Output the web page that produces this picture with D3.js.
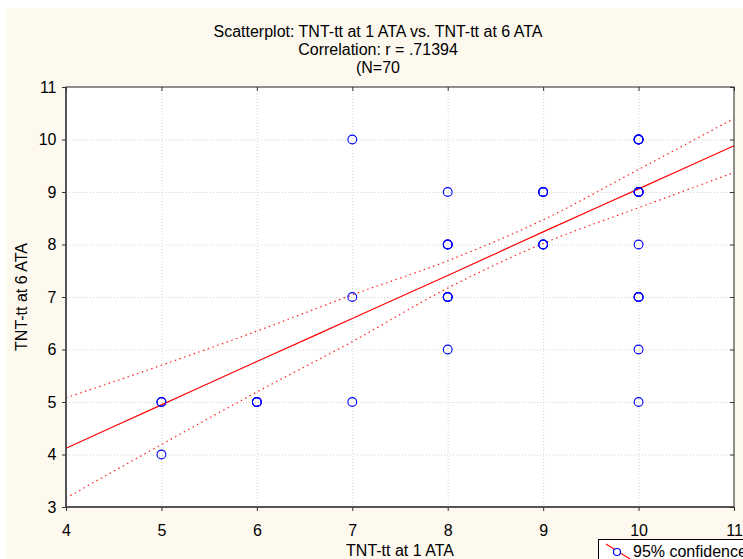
<!DOCTYPE html>
<html>
<head>
<meta charset="utf-8">
<script src="https://cdn.jsdelivr.net/npm/d3@7"></script>
<style>
body { margin: 0; background: #fff; }
svg { display: block; font-family: "Liberation Sans", Arial, sans-serif; }
</style>
</head>
<body>
<svg id="chart" width="743" height="559"></svg>
<script>
// points (x = TNT-tt at 1 ATA, y = TNT-tt at 6 ATA), count = overlapping cases
var ptX =     [5, 5, 6, 7, 7, 7, 8, 8, 8, 8, 9, 9, 10, 10, 10, 10, 10, 10];
var ptY =     [5, 4, 5, 10, 7, 5, 9, 8, 7, 6, 9, 8, 10, 9, 8, 7, 6, 5];
var ptCount = [2, 1, 3, 1, 1, 1, 1, 3, 3, 1, 3, 3, 4, 4, 1, 3, 1, 1];

// regression line and 95% band read at each x tick
var bandX =  [4, 5, 6, 7, 8, 9, 10, 11];
var fitY =   [4.12, 4.945, 5.77, 6.59, 7.41, 8.24, 9.06, 9.88];
var upperY = [5.08, 5.70, 6.35, 7.04, 7.69, 8.47, 9.43, 10.40];
var lowerY = [3.17, 4.19, 5.19, 6.15, 7.17, 8.02, 8.70, 9.37];

var xTicks = [4, 5, 6, 7, 8, 9, 10, 11];
var yTicks = [3, 4, 5, 6, 7, 8, 9, 10, 11];

var titleLines = ["Scatterplot: TNT-tt at 1 ATA vs. TNT-tt at 6 ATA",
                  "Correlation: r = .71394",
                  "(N=70"];

(function () {
var svg = d3.select("#chart");
var pl = 66, pr = 734, pt = 87, pb = 507;

// cream page
svg.append("rect")
    .attr("x", 6).attr("y", 8)
    .attr("width", 743 - 6).attr("height", 559 - 8)
    .style("fill", "#fdf9ef");

svg.append("rect")
    .attr("x", pl).attr("y", pt)
    .attr("width", pr - pl).attr("height", pb - pt)
    .style("fill", "#fff");

var xScale = d3.scaleLinear().domain([4, 11]).range([pl, pr]);
var yScale = d3.scaleLinear().domain([3, 11]).range([pb, pt]);

// grid
svg.append("g").selectAll("line")
    .data(xTicks.slice(1, -1))
    .enter().append("line")
    .attr("x1", function (d) { return xScale(d) + 0.5; })
    .attr("x2", function (d) { return xScale(d) + 0.5; })
    .attr("y1", pt).attr("y2", pb)
    .style("stroke", "#d4d4d4")
    .style("stroke-dasharray", "1,2");
svg.append("g").selectAll("line")
    .data(yTicks.slice(1, -1))
    .enter().append("line")
    .attr("y1", function (d) { return yScale(d) + 0.5; })
    .attr("y2", function (d) { return yScale(d) + 0.5; })
    .attr("x1", pl).attr("x2", pr)
    .style("stroke", "#d4d4d4")
    .style("stroke-dasharray", "1,2");

// fit + band
var lineGen = d3.line()
    .x(function (d) { return xScale(d[0]); })
    .y(function (d) { return yScale(d[1]); })
    .curve(d3.curveMonotoneX);

svg.append("path")
    .attr("d", lineGen(bandX.map(function (x, i) { return [x, fitY[i]]; })))
    .style("fill", "none").style("stroke", "#ff0000").style("stroke-width", 1.2);
[upperY, lowerY].forEach(function (arr) {
    svg.append("path")
        .attr("d", lineGen(bandX.map(function (x, i) { return [x, arr[i]]; })))
        .style("fill", "none").style("stroke", "#ff2020")
        .style("stroke-width", 1.2)
        .style("stroke-dasharray", "1.5,3.5");
});

// points, drawn once per case so overlaps look heavier
var pts = [];
ptX.forEach(function (x, i) {
    for (var k = 0; k < ptCount[i]; k++) pts.push({x: x, y: ptY[i]});
});
svg.append("g").selectAll("circle")
    .data(pts)
    .enter().append("circle")
    .attr("cx", function (d) { return xScale(d.x); })
    .attr("cy", function (d) { return yScale(d.y); })
    .attr("r", 4.4)
    .style("fill", "none")
    .style("stroke", "#0000ff")
    .style("stroke-width", 1.1);

// frame
svg.append("rect")
    .attr("x", pl).attr("y", pt)
    .attr("width", pr - pl).attr("height", pb - pt)
    .style("fill", "none").style("stroke", "#222").style("stroke-width", 1);
svg.append("path")
    .attr("d", "M" + pl + "," + pt + "V" + pb + "H" + pr)
    .style("fill", "none").style("stroke", "#555").style("stroke-width", 2);

// axes
var xAxis = svg.append("g").attr("transform", "translate(0," + pb + ")")
    .call(d3.axisBottom(xScale).tickValues(xTicks).tickFormat(d3.format("d")).tickSize(4));
var yAxis = svg.append("g").attr("transform", "translate(" + pl + ",0)")
    .call(d3.axisLeft(yScale).tickValues(yTicks).tickFormat(d3.format("d")).tickSize(4).tickPadding(5.5));
svg.append("g").attr("transform", "translate(0," + pt + ")")
    .call(d3.axisBottom(xScale).tickValues(xTicks).tickSize(4).tickFormat(""));
svg.append("g").attr("transform", "translate(" + pr + ",0)")
    .call(d3.axisLeft(yScale).tickValues(yTicks).tickSize(4).tickFormat(""));
svg.selectAll(".domain").remove();
svg.selectAll(".tick line").style("stroke", "#333");
xAxis.selectAll("text").attr("y", 29).attr("dy", null);
[xAxis, yAxis].forEach(function (a) {
    a.selectAll("text").style("font-size", "16px").style("fill", "#000")
        .style("font-family", "'Liberation Sans', Arial, sans-serif");
});

// titles
svg.append("g").selectAll("text")
    .data(titleLines)
    .enter().append("text")
    .attr("x", 378)
    .attr("y", function (d, i) { return 36.5 + i * 18.3; })
    .attr("text-anchor", "middle")
    .style("font-size", "16px")
    .text(function (d) { return d; });

svg.append("text")
    .attr("x", (pl + pr) / 2).attr("y", 556)
    .attr("text-anchor", "middle")
    .style("font-size", "16px")
    .text("TNT-tt at 1 ATA");

svg.append("text")
    .attr("transform", "translate(27," + ((pt + pb) / 2) + ") rotate(-90)")
    .attr("text-anchor", "middle")
    .style("font-size", "16px")
    .text("TNT-tt at 6 ATA");

// legend
var lg = svg.append("g");
lg.append("rect")
    .attr("x", 598.5).attr("y", 539.5)
    .attr("width", 160).attr("height", 30)
    .style("fill", "#fff").style("stroke", "#000");
lg.append("line")
    .attr("x1", 606).attr("y1", 544).attr("x2", 630).attr("y2", 559)
    .style("stroke", "#ff0000").style("stroke-width", 1.1);
lg.append("circle")
    .attr("cx", 617).attr("cy", 552).attr("r", 3.5)
    .style("fill", "#fff").style("stroke", "#0000ff").style("stroke-width", 1.2);
lg.append("text")
    .attr("x", 633).attr("y", 557)
    .style("font-size", "16px")
    .text("95% confidence");
})();
</script>
</body>
</html>
